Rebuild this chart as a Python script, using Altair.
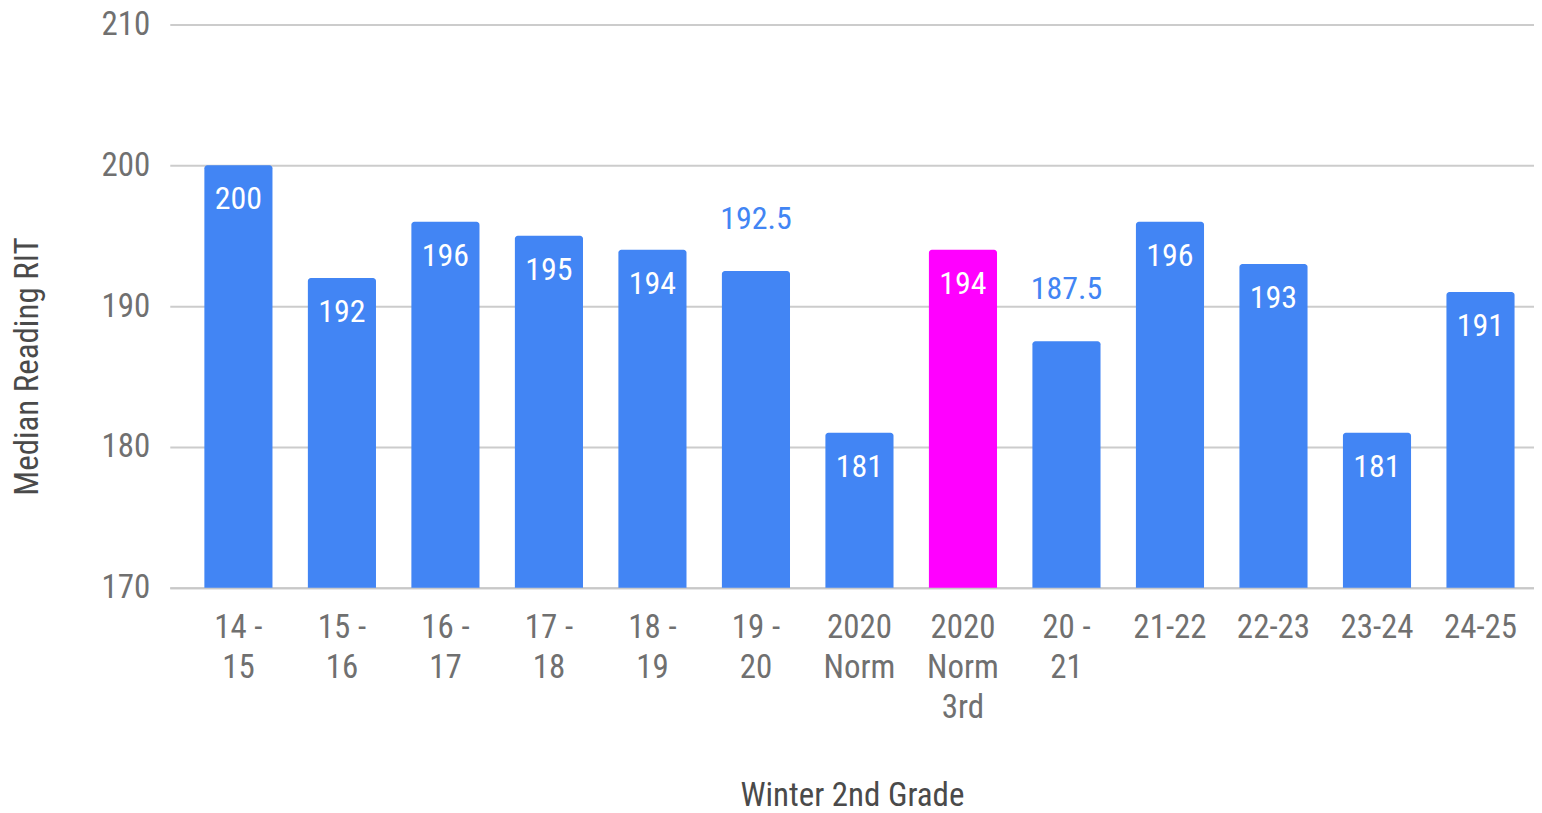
import altair as alt
import pandas as pd

categories = ["14 -|15", "15 -|16", "16 -|17", "17 -|18", "18 -|19", "19 -|20",
              "2020|Norm", "2020|Norm|3rd", "20 -|21", "21-22", "22-23", "23-24", "24-25"]
values = [200, 192, 196, 195, 194, 192.5, 181, 194, 187.5, 196, 193, 181, 191]
bar_colors = ["#4285F4"] * 7 + ["#FF00FF"] + ["#4285F4"] * 5
label_inside = [True, True, True, True, True, False, True, True, False, True, True, True, True]
labels = ["200", "192", "196", "195", "194", "192.5", "181", "194", "187.5", "196", "193", "181", "191"]
baseline_value = 170

df = pd.DataFrame({
    "cat": categories,
    "value": values,
    "color": bar_colors,
    "inside": label_inside,
    "label": labels,
})

FONT = "Roboto Condensed, Liberation Sans Narrow, DejaVu Sans Condensed, Roboto"

x_enc = alt.X(
    "cat:N",
    sort=categories,
    title="Winter 2nd Grade",
    scale=alt.Scale(paddingInner=0.342, paddingOuter=0.261, align=0.64),
    axis=alt.Axis(
        labelAngle=0,
        labelExpr="split(datum.label, '|')",
        labelFontSize=33,
        labelLineHeight=40,
        labelColor="#707070",
        labelPadding=24,
        ticks=False,
        domainColor="#c8c8c8",
        domainWidth=2,
        titleFontSize=33,
        titleFontWeight="normal",
        titleColor="#4a4a4a",
        titlePadding=55,
        labelFont=FONT,
        titleFont=FONT,
    ),
)

y_scale = alt.Scale(domain=[170, 210], nice=False, zero=False)

bars = alt.Chart(df).mark_bar(cornerRadiusTopLeft=3, cornerRadiusTopRight=3).encode(
    x=x_enc,
    y=alt.Y(
        "value:Q",
        scale=y_scale,
        title="Median Reading RIT",
        axis=alt.Axis(
            values=[170, 180, 190, 200, 210],
            labelFontSize=33,
            labelColor="#707070",
            labelPadding=20,
            ticks=False,
            domain=False,
            gridColor="#cccccc",
            gridWidth=2,
            titleFontSize=33,
            titleFontWeight="normal",
            titleColor="#4a4a4a",
            titleX=-142,
            titleY=342,
            titleBaseline="middle",
            titleAlign="center",
            labelFont=FONT,
            titleFont=FONT,
        ),
    ),
    y2=alt.datum(baseline_value),
    color=alt.Color("color:N", scale=None),
)

inside_text = alt.Chart(df).transform_filter("datum.inside").mark_text(
    baseline="middle", dy=34, fontSize=32, color="white", font=FONT
).encode(
    x=alt.X("cat:N", sort=categories),
    y=alt.Y("value:Q", scale=y_scale),
    text="label:N",
)

outside_text = alt.Chart(df).transform_filter("!datum.inside").mark_text(
    baseline="middle", dy=-52, fontSize=32, color="#4285F4", font=FONT
).encode(
    x=alt.X("cat:N", sort=categories),
    y=alt.Y("value:Q", scale=y_scale),
    text="label:N",
)

chart = alt.layer(bars, inside_text, outside_text).properties(
    width=1366,
    height=564,
    padding={"left": 4, "top": 0, "right": 0, "bottom": 0},
).configure_view(stroke=None)

chart.save("out.html", embed_options={"renderer": "svg", "actions": False})
